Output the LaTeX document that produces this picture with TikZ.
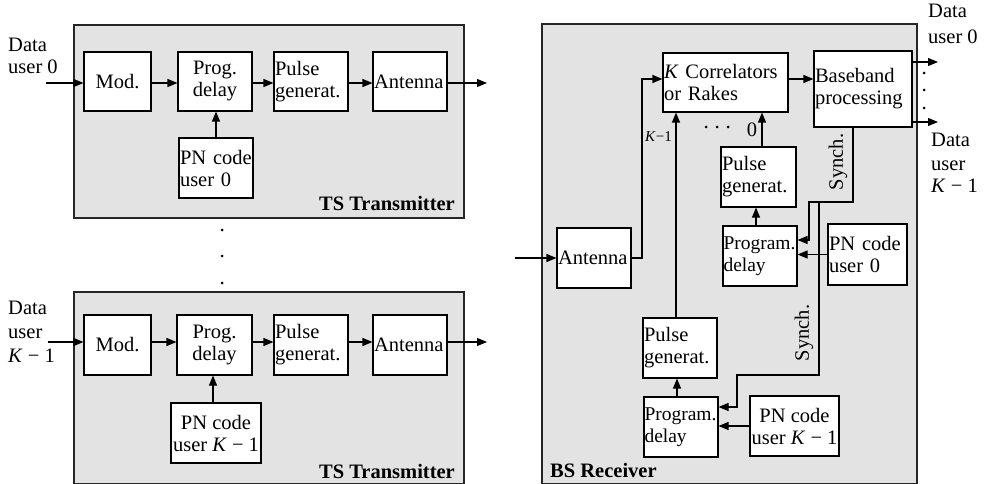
\documentclass[tikz,border=0pt]{standalone}
\usepackage{fontspec}
\setmainfont{Liberation Serif}
\usetikzlibrary{arrows.meta,calc}
\begin{document}
\begin{tikzpicture}[x=1pt,y=-1pt, font=\fontsize{20.5}{22}\selectfont,
  blk/.style={draw, fill=white, line width=1.1pt, inner sep=1pt, align=left, minimum height=60pt},
  cblk/.style={draw, fill=white, line width=1.1pt, inner sep=1pt, align=center, minimum height=60pt},
  arr/.style={line width=1.1pt, -{Triangle[length=10pt,width=8pt]}},
  panel/.style={draw=black!85, fill=black!11, line width=1.3pt},
  lbl/.style={anchor=base west, inner sep=0},
  ttl/.style={inner sep=0, font=\fontsize{20.5}{22}\selectfont\bfseries},
  pgm/.style={font=\fontsize{19.5}{22}\selectfont},
  dot/.style={fill=black, draw=none, circle, inner sep=0, minimum size=3pt}]
\useasboundingbox (0,0) rectangle (991,484);
\fill[white] (0,0) rectangle (991,484);
% panels
\draw[panel] (74,25) rectangle (464,218);
\draw[panel] (74,292) rectangle (464,483.5);
\draw[panel] (542,24) rectangle (917,483.5);

% ---------- top transmitter ----------
\node[cblk,minimum width=67pt,minimum height=59pt] (modA) at (117.5,81.5) {Mod.};
\node[cblk,minimum width=74pt,minimum height=59pt] (pdA) at (215,81.5) {Prog.\\delay};
\node[blk,text width=72pt,minimum height=59pt] (pgA) at (311,81.5) {Pulse\\generat.};
\node[blk,text width=72pt,minimum height=59pt] (anA) at (410,81.5) {Antenna};
\node[blk,text width=72pt] (pnA) at (216,168) {PN code\\user 0};
\coordinate (inA) at (46,83);
\coordinate (outA) at (487,83);
\draw[arr] (inA) -- (inA -| modA.west);
\draw[arr] (modA.east |- inA) -- (pdA.west |- inA);
\draw[arr] (pdA.east |- inA) -- (pgA.west |- inA);
\draw[arr] (pgA.east |- inA) -- (anA.west |- inA);
\draw[arr] (anA.east |- inA) -- (outA);
\draw[arr] (pnA.north) -- (pnA.north |- pdA.south);
\node[lbl] at (8,52) {Data};
\node[lbl] at (8,74) {user 0};
\node[ttl, anchor=base east] at (455,211) {TS Transmitter};

% dots between transmitters
\node[dot] (d1) at (222,230) {};
\node[dot] (d2) at (222,256) {};
\node[dot] (d3) at (222,283) {};

% ---------- bottom transmitter ----------
\node[cblk,minimum width=67pt] (modB) at (117.5,345) {Mod.};
\node[cblk,minimum width=75pt] (pdB) at (214.5,345) {Prog.\\delay};
\node[blk,text width=72pt] (pgB) at (311,345) {Pulse\\generat.};
\node[blk,text width=72pt] (anB) at (410,345) {Antenna};
\node[cblk,minimum width=90pt] (pnB) at (216,433) {PN code\\user \textit{K} − 1};
\coordinate (inB) at (48,342);
\coordinate (outB) at (487,342);
\draw[arr] (inB) -- (inB -| modB.west);
\draw[arr] (modB.east |- inB) -- (pdB.west |- inB);
\draw[arr] (pdB.east |- inB) -- (pgB.west |- inB);
\draw[arr] (pgB.east |- inB) -- (anB.west |- inB);
\draw[arr] (anB.east |- inB) -- (outB);
\draw[arr] (pnB.north -| 213,0) -- (pdB.south -| 213,0);
\node[lbl] at (8,314) {Data};
\node[lbl] at (8,338) {user};
\node[lbl] at (8,362) {\textit{K} − 1};
\node[ttl, anchor=base east] at (455,478) {TS Transmitter};

% ---------- receiver ----------
\node[blk,text width=72pt] (ant) at (594,258) {Antenna};
\node[blk,text width=123pt,minimum height=59pt] (corr) at (725.5,82.5) {\textit{K} Correlators\\or Rakes};
\node[blk,text width=96pt,minimum height=76pt] (base) at (863,89) {Baseband\\processing};
\node[blk,text width=73pt] (pgr0) at (758.5,177) {Pulse\\generat.};
\node[blk,pgm,inner sep=0.5pt,text width=73pt] (pdr0) at (760,256) {Program.\\delay};
\node[blk,text width=77pt,minimum height=61pt] (pnr0) at (867.5,254.5) {PN code\\user 0};
\node[blk,text width=72pt] (pgrK) at (680,348) {Pulse\\generat.};
\node[blk,pgm,inner sep=0.5pt,text width=73pt] (pdrK) at (681,427) {Program.\\delay};
\node[cblk,minimum width=89pt] (pnrK) at (794.5,426) {PN code\\user \textit{K} − 1};

\coordinate (rin) at (515,258);
\draw[arr] (rin) -- (ant.west);
\coordinate (j1) at (642,79);
\draw[arr] (ant.east) -| (j1) -- (j1 -| corr.west);
\coordinate (j2) at (800,79);
\draw[arr] (corr.east |- j2) -- (base.west |- j2);
\coordinate (o0) at (938,62);
\coordinate (oK) at (938,122);
\draw[arr] (base.east |- o0) -- (o0);
\draw[arr] (base.east |- oK) -- (oK);
\node[dot] (e1) at (924,73) {};
\node[dot] (e2) at (924,90) {};
\node[dot] (e3) at (924,108) {};
\draw[arr] (pgr0.north -| 762,0) -- (corr.south -| 762,0);
\draw[arr] (pdr0.north -| 756,0) -- (pgr0.south -| 756,0);
\draw[arr] (pnr0.west) -- (pnr0.west -| pdr0.east);
\coordinate (s1) at (853,202);
\coordinate (s2) at (809,240);
\draw[arr] (base.south -| s1) -- (s1) -| (s2) -- (s2 -| pdr0.east);
\coordinate (b1) at (819,202);
\coordinate (b2) at (737,375);
\coordinate (b3) at (737,407);
\draw[arr] (b1) |- (b2) -- (b3) -- (b3 -| pdrK.east);
\draw[arr] (pnrK.west) -- (pnrK.west -| pdrK.east);
\draw[arr] (pdrK.north -| 677,0) -- (pgrK.south -| 677,0);
\draw[arr] (pgrK.north -| 676,0) -- (corr.south -| 676,0);

\node[inner sep=0, anchor=base west, font=\fontsize{15}{15}\selectfont] at (645,142) {\textit{K}−1};
\node[dot] (c1) at (706,127) {};
\node[dot] (c2) at (717,127) {};
\node[dot] (c3) at (728,127) {};
\node[inner sep=0, anchor=base] at (752,137) {0};
\node[inner sep=0, rotate=90] at (838,162) {Synch.};
\node[inner sep=0, rotate=90] at (804,333) {Synch.};

\node[lbl] at (928,18) {Data};
\node[lbl] at (928,44) {user 0};
\node[lbl] at (931,147) {Data};
\node[lbl] at (931,171) {user};
\node[lbl] at (931,193) {\textit{K} − 1};
\node[ttl, anchor=base west] at (550,477) {BS Receiver};
\end{tikzpicture}
\end{document}
